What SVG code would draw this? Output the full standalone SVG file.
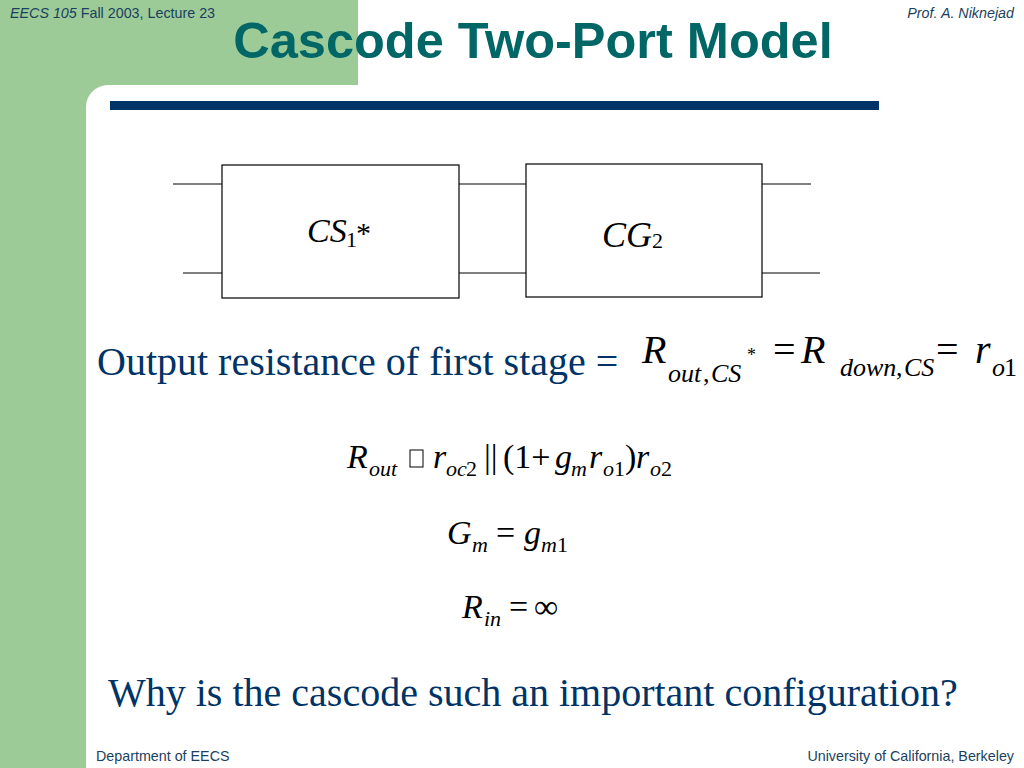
<svg xmlns="http://www.w3.org/2000/svg" width="1024" height="768" viewBox="0 0 1024 768">
<style>
.hdr{font-family:"Liberation Sans",Arial,sans-serif;font-size:14.3px;fill:#1b3f5e}
.it{font-family:"Liberation Serif","Times New Roman",serif;font-style:italic;fill:#000}
.rm{font-family:"Liberation Serif","Times New Roman",serif;font-style:normal;fill:#000}
.box{fill:#fff;stroke:#000;stroke-width:1.2}
.wire{stroke:#000;stroke-width:1.2}
.blue{font-family:"Liberation Serif","Times New Roman",serif;fill:#003366;font-size:40px}
.b40{font-size:40px}.s26{font-size:26px}.b34{font-size:34px}.s22{font-size:22px}
</style>
<rect x="0" y="0" width="1024" height="768" fill="#fff"/>
<rect x="0" y="0" width="86" height="768" fill="#9ccb98"/>
<rect x="0" y="0" width="358" height="85" fill="#9ccb98"/>
<path d="M86 85 L108 85 A22 22 0 0 0 86 107 Z" fill="#9ccb98"/>
<text class="hdr" x="10" y="18"><tspan font-style="italic">EECS 105</tspan> Fall 2003, Lecture 23</text>
<text class="hdr" x="1014" y="18" text-anchor="end" font-style="italic">Prof. A. Niknejad</text>
<text x="533" y="58" text-anchor="middle" font-family="Liberation Sans,Arial,sans-serif" font-weight="bold" font-size="50.5" fill="#006666">Cascode Two-Port Model</text>
<rect x="110" y="101" width="769" height="9" fill="#003366"/>
<g id="connectors">
<line class="wire" x1="173" y1="184" x2="222" y2="184"/>
<line class="wire" x1="183" y1="273" x2="222" y2="273"/>
<line class="wire" x1="459" y1="184" x2="526" y2="184"/>
<line class="wire" x1="459" y1="273" x2="526" y2="273"/>
<line class="wire" x1="762" y1="184" x2="811" y2="184"/>
<line class="wire" x1="762" y1="273" x2="820" y2="273"/>
</g>
<g id="cs1">
<rect class="box" x="222" y="165" width="237" height="133"/>
<text class="it" x="307" y="242" font-size="34">CS</text>
<text class="rm" x="346" y="247" font-size="22">1</text>
<text class="rm" x="356" y="243" font-size="30">*</text>
</g>
<g id="cg2">
<rect class="box" x="526" y="164" width="236" height="133"/>
<text class="it" x="602" y="247" font-size="36">CG</text>
<text class="rm" x="652" y="248" font-size="22">2</text>
</g>
<text class="blue" x="97" y="375">Output resistance of first stage =</text>
<g id="eq1">
<text class="it b40" x="642" y="363">R</text>
<text class="it s26" x="668" y="382">out</text>
<text class="rm s26" x="703" y="382">,</text>
<text class="it s26" x="711" y="382">CS</text>
<text class="rm" x="747" y="361" font-size="18">*</text>
<text class="rm b40" x="773" y="363">=</text>
<text class="it b40" x="801" y="363">R</text>
<text class="it s26" x="840" y="376">down</text>
<text class="rm s26" x="896" y="376">,</text>
<text class="it s26" x="904" y="376">CS</text>
<text class="rm b40" x="936" y="363">=</text>
<text class="it b40" x="975" y="363">r</text>
<text class="it s26" x="992" y="376">o</text>
<text class="rm s26" x="1004" y="376">1</text>
</g>
<g id="eq2">
<text class="it b34" x="347" y="468">R</text>
<text class="it s22" x="369" y="476">out</text>
<rect x="410" y="450" width="13" height="17" fill="none" stroke="#000" stroke-width="1"/>
<text class="it b34" x="433" y="468">r</text>
<text class="it s22" x="446" y="476">oc</text>
<text class="rm s22" x="466" y="476">2</text>
<text class="rm b34" x="484" y="468">||</text>
<text class="rm b34" x="503" y="468">(1+</text>
<text class="it b34" x="555" y="468">g</text>
<text class="it s22" x="571" y="476">m</text>
<text class="it b34" x="589" y="468">r</text>
<text class="it s22" x="603" y="476">o</text>
<text class="rm s22" x="614" y="476">1</text>
<text class="rm b34" x="625" y="468">)</text>
<text class="it b34" x="636" y="468">r</text>
<text class="it s22" x="650" y="476">o</text>
<text class="rm s22" x="661" y="476">2</text>
</g>
<g id="eq3">
<text class="it b34" x="447" y="544">G</text>
<text class="it s22" x="472" y="552">m</text>
<text class="rm b34" x="496" y="544">=</text>
<text class="it b34" x="524" y="544">g</text>
<text class="it s22" x="541" y="552">m</text>
<text class="rm s22" x="557" y="552">1</text>
</g>
<g id="eq4">
<text class="it b34" x="462" y="618">R</text>
<text class="it s22" x="484" y="626">in</text>
<text class="rm b34" x="509" y="618">=</text>
<text class="rm b34" x="534" y="618">∞</text>
</g>
<text class="blue" x="108" y="706">Why is the cascode such an important configuration?</text>
<text class="hdr" x="96" y="761">Department of EECS</text>
<text class="hdr" x="1014" y="761" text-anchor="end">University of California, Berkeley</text>
</svg>
